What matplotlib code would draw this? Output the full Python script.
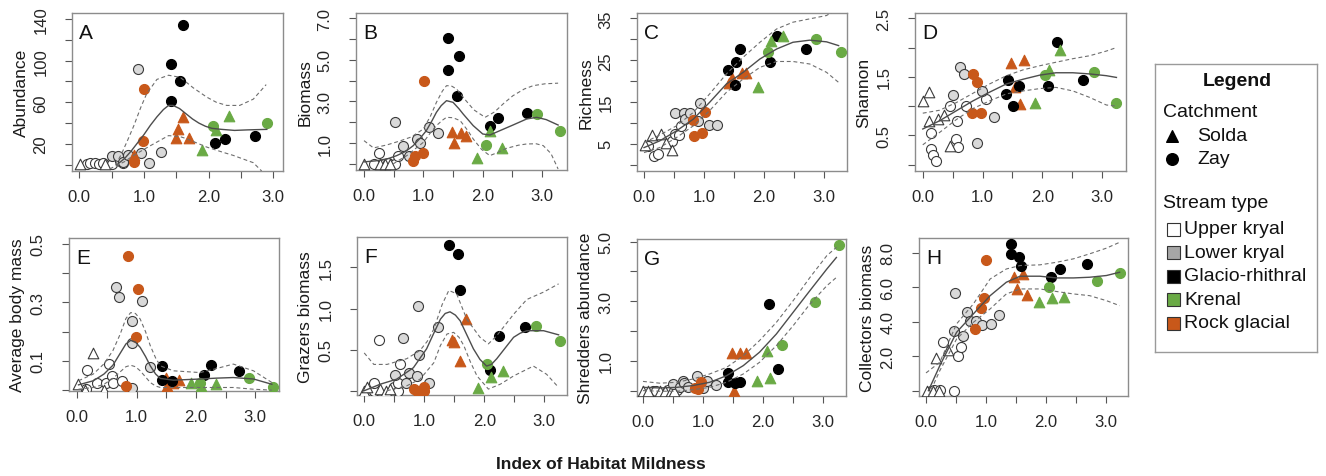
import matplotlib.pyplot as plt
from matplotlib.patches import Rectangle

plt.rcParams['font.family'] = ['Liberation Sans', 'DejaVu Sans']

W, H = 1326, 477

# stream type -> colours, catchment -> marker (T = Solda, C = Zay)
fill = {'U': 'white', 'L': '#d9d9d9', 'G': 'black', 'K': '#6aaa45', 'R': '#c8581a'}
edge = {'U': '#3a3a3a', 'L': '#3a3a3a', 'G': 'black', 'K': '#6aaa45', 'R': '#c8581a'}
marker = {'T': '^', 'C': 'o'}
type_names = ['Upper kryal', 'Lower kryal', 'Glacio-rhithral', 'Krenal', 'Rock glacial']
type_keys = ['U', 'L', 'G', 'K', 'R']
legend_fill = {'U': 'white', 'L': '#a6a6a6', 'G': 'black', 'K': '#6aaa45', 'R': '#c8581a'}

# ---- A: abundance ----
A_pts = {
    'UT': ([0.01, 0.40], [0.5, 0.5]),
    'UC': ([0.12, 0.17, 0.24, 0.30, 0.36, 0.50, 0.63, 0.68], [1, 2, 1.5, 1, 2, 1, 3.5, 1.5]),
    'LC': ([0.50, 0.60, 0.67, 0.76, 0.90, 0.95, 1.08, 1.26], [8.5, 8.5, 3, 9.5, 92, 11, 2, 12.5]),
    'RC': ([0.85, 0.99, 1.00], [2.5, 23, 73]),
    'RT': ([0.84, 1.49, 1.53, 1.60, 1.70], [9, 26, 34, 46, 26]),
    'GC': ([1.42, 1.42, 1.56, 1.60, 2.10, 2.26, 2.72], [97, 61, 80, 134, 21, 25, 28]),
    'KC': ([2.07, 2.90], [37.5, 40]),
    'KT': ([1.89, 2.12, 2.31], [14, 33, 47]),
}
A_fit = ([0.58, 0.7, 0.8, 0.9, 1.0, 1.1, 1.2, 1.3, 1.38, 1.45, 1.55, 1.65, 1.75, 1.85, 1.95, 2.05, 2.2, 2.4, 2.6, 2.9],
         [0, 6, 13, 21, 29, 38, 46, 53, 57, 57, 54, 49, 44, 40, 37, 35, 34, 33, 33.5, 34])
A_hi = ([0.56, 0.65, 0.75, 0.84, 0.95, 1.04, 1.2, 1.38, 1.56, 1.76, 1.97, 2.12, 2.28, 2.48, 2.69, 2.89],
        [0, 10, 24, 37, 55, 68, 82, 86, 84, 74, 65, 60, 57, 57, 63, 77])
A_lo = ([0.47, 0.6, 0.7, 0.84, 1.09, 1.38, 1.56, 1.66, 1.97, 2.22, 2.38, 2.6, 2.69, 2.82],
        [-4, 0, 3, 9, 18, 28, 27, 25, 17, 12, 9, 4, 2, -6])

# ---- B: biomass ----
B_pts = {
    'UT': ([0.0, 0.27, 0.36, 0.44], [0.02, 0.02, 0.02, 0.02]),
    'UC': ([0.16, 0.25, 0.33, 0.40, 0.52, 0.58], [0.02, 0.53, 0.02, 0.05, 0.02, 0.4]),
    'LC': ([0.52, 0.65, 0.75, 0.90, 0.94, 1.09, 1.24], [2.03, 0.88, 0.4, 1.2, 1.0, 1.76, 1.47]),
    'RC': ([0.83, 0.86, 1.0, 1.01], [0.13, 0.4, 0.53, 3.97]),
    'RT': ([1.49, 1.51, 1.63, 1.72], [1.55, 1.0, 1.47, 1.33]),
    'GC': ([1.42, 1.42, 1.56, 1.60, 2.13, 2.26, 2.74], [6.05, 4.53, 3.28, 5.17, 1.84, 2.19, 2.45]),
    'KC': ([2.06, 2.91, 3.30], [0.93, 2.4, 1.6]),
    'KT': ([1.91, 2.12, 2.33], [0.29, 1.6, 0.77]),
}
B_fit = ([0.0, 0.2, 0.4, 0.55, 0.7, 0.83, 0.95, 1.05, 1.15, 1.22, 1.3, 1.39, 1.5, 1.6, 1.67, 1.84, 2.0, 2.12,
          2.29, 2.51, 2.74, 2.91, 3.07, 3.27],
         [0.1, 0.15, 0.25, 0.4, 0.6, 0.88, 1.25, 1.6, 2.1, 2.48, 2.8, 3.04, 2.96, 2.65, 2.4, 1.84, 1.44, 1.39,
          1.6, 1.87, 2.16, 2.24, 2.13, 1.87])
B_hi = ([0.0, 0.16, 0.38, 0.6, 0.8, 1.0, 1.12, 1.22, 1.32, 1.39, 1.47, 1.56, 1.7, 1.85, 2.04, 2.2, 2.35, 2.51,
         2.7, 2.85, 3.05, 3.27],
        [1.12, 0.77, 0.91, 1.1, 1.3, 1.68, 2.3, 2.96, 3.5, 3.76, 3.75, 3.6, 3.1, 2.6, 2.24, 2.5, 2.9, 3.28,
         3.6, 3.76, 3.85, 3.88])
B_lo = ([0.49, 0.6, 0.72, 0.85, 1.0, 1.12, 1.22, 1.32, 1.39, 1.5, 1.62, 1.75, 1.84, 1.98, 2.12, 2.25, 2.4,
         2.6, 2.74, 2.9, 3.02, 3.15, 3.27],
        [0.0, 0.2, 0.4, 0.7, 1.04, 1.5, 1.84, 2.1, 2.24, 2.22, 2.08, 1.6, 1.2, 0.7, 0.4, 0.55, 0.75,
         0.9, 0.96, 0.97, 0.88, 0.5, -0.24])

# ---- C: richness ----
C_pts = {
    'UT': ([0.02, 0.13, 0.28, 0.37, 0.46], [4.8, 7.1, 7.3, 5.3, 3.6]),
    'UC': ([0.07, 0.16, 0.23, 0.46, 0.51, 0.58, 0.61], [4.5, 2.0, 2.6, 5.7, 7.3, 7.1, 9.3]),
    'LC': ([0.51, 0.66, 0.68, 0.76, 0.90, 0.94, 1.09, 1.22], [12.4, 12.4, 10.9, 12.4, 10.5, 14.8, 9.6, 9.6]),
    'RC': ([0.81, 0.83, 0.97, 1.02], [10.8, 6.8, 7.5, 12.7]),
    'RT': ([1.42, 1.47, 1.63, 1.69], [19.5, 20.7, 21.9, 21.9]),
    'GC': ([1.40, 1.52, 1.53, 1.59, 2.09, 2.22, 2.69], [22.7, 19.1, 24.6, 27.7, 24.6, 30.9, 27.7]),
    'KC': ([2.07, 2.86, 3.28], [26.9, 30.1, 26.9]),
    'KT': ([1.90, 2.11, 2.31], [18.7, 29.7, 30.7]),
}
C_x = [0, 0.26, 0.54, 0.82, 1.09, 1.37, 1.65, 1.93, 2.21, 2.48, 2.76, 3.04, 3.24]
C_fit = (C_x, [4.1, 5.7, 8.1, 10.9, 14.9, 19.3, 22.1, 25.3, 27.7, 29.3, 29.8, 29.4, 28.5])
C_hi = (C_x, [5.3, 7.1, 9.3, 12.5, 16.9, 21.7, 25.7, 29.3, 32.5, 34.1, 34.9, 35.7, 37.5])
C_lo = (C_x, [2.9, 4.1, 6.5, 9.3, 12.9, 17.3, 20.5, 23.3, 24.7, 24.7, 24.1, 22.1, 19.7])

# ---- D: Shannon ----
D_pts = {
    'UT': ([0.01, 0.10, 0.11, 0.25, 0.36, 0.45], [1.08, 1.25, 0.75, 0.78, 0.85, 0.32]),
    'UC': ([0.13, 0.14, 0.17, 0.22, 0.46, 0.55, 0.57, 0.59, 0.73, 1.06],
           [0.55, 0.27, 0.17, 0.07, 1.01, 0.44, 0.75, 0.31, 1.0, 1.12]),
    'LC': ([0.51, 0.63, 0.69, 0.91, 0.99, 1.20], [1.19, 1.66, 1.55, 0.37, 1.26, 0.81]),
    'RC': ([0.82, 0.84, 0.91, 0.98], [0.88, 1.55, 1.41, 0.88]),
    'RT': ([1.48, 1.54, 1.62, 1.69], [1.73, 1.32, 1.04, 1.79]),
    'GC': ([1.40, 1.42, 1.51, 1.61, 2.09, 2.25, 2.68], [1.21, 1.44, 1.0, 1.35, 1.34, 2.09, 1.44]),
    'KC': ([2.05, 2.87, 3.24], [1.53, 1.59, 1.05]),
    'KT': ([1.88, 2.11, 2.30], [1.05, 1.61, 1.96]),
}
D_x = [0, 0.28, 0.56, 0.84, 1.12, 1.40, 1.68, 1.96, 2.23, 2.51, 2.79, 3.07, 3.24]
D_fit = (D_x, [0.61, 0.75, 0.92, 1.09, 1.24, 1.38, 1.46, 1.53, 1.57, 1.57, 1.55, 1.52, 1.49])
D_hi = (D_x, [0.88, 0.93, 1.06, 1.22, 1.38, 1.52, 1.62, 1.69, 1.75, 1.81, 1.86, 1.94, 2.0])
D_lo = (D_x, [0.34, 0.55, 0.77, 0.96, 1.09, 1.21, 1.26, 1.30, 1.32, 1.26, 1.15, 1.02, 1.0])

# ---- E: average body mass ----
E_pts = {
    'UT': ([0.02, 0.13, 0.26, 0.45], [0.02, 0.0, 0.126, 0.0]),
    'UC': ([0.15, 0.17, 0.33, 0.48, 0.53, 0.58, 0.61, 0.75], [0.003, 0.07, 0.026, 0.026, 0.09, 0.047, 0.023, 0.032]),
    'LC': ([0.66, 0.71, 0.93, 0.93, 0.93, 1.09, 1.23], [0.354, 0.32, 0.235, 0.161, 0.006, 0.306, 0.078]),
    'RC': ([0.82, 0.85, 0.99, 1.02], [0.013, 0.458, 0.18, 0.346]),
    'RT': ([1.49, 1.52, 1.62, 1.72], [0.043, 0.013, 0.024, 0.033]),
    'GC': ([1.42, 1.43, 1.59, 2.13, 2.26, 2.72], [0.034, 0.083, 0.03, 0.051, 0.086, 0.064]),
    'KC': ([2.07, 2.89, 3.30], [0.023, 0.043, 0.011]),
    'KT': ([1.91, 2.09, 2.34], [0.023, 0.015, 0.02]),
}
E_x = [0.02, 0.27, 0.45, 0.6, 0.72, 0.82, 0.9, 0.98, 1.06, 1.15, 1.23, 1.32, 1.40, 1.62, 2.07, 2.35, 2.63, 2.97, 3.28]
E_fit = (E_x, [0.018, 0.032, 0.055, 0.085, 0.125, 0.158, 0.17, 0.164, 0.146, 0.115, 0.083, 0.055, 0.04,
               0.034, 0.038, 0.041, 0.043, 0.038, 0.02])
E_hi = (E_x, [0.032, 0.055, 0.09, 0.135, 0.19, 0.245, 0.265, 0.262, 0.243, 0.2, 0.152, 0.11, 0.083,
              0.066, 0.06, 0.074, 0.089, 0.066, 0.026])
E_lo = (E_x, [0.003, 0.009, 0.02, 0.04, 0.062, 0.08, 0.085, 0.08, 0.066, 0.045, 0.026, 0.014, 0.009,
              0.009, 0.009, 0.009, 0.009, 0.003, 0.0])

# ---- F: grazers biomass ----
F_pts = {
    'UT': ([0.0, 0.05, 0.27, 0.36, 0.43], [0.0, 0.04, 0.02, 0.0, 0.02]),
    'UC': ([0.16, 0.17, 0.24, 0.49, 0.56, 0.57, 0.59], [0.0, 0.1, 0.62, 0.04, 0.0, 0.1, 0.32]),
    'LC': ([0.52, 0.64, 0.70, 0.74, 0.88, 0.89, 0.92, 1.08, 1.23], [0.19, 0.64, 0.09, 0.21, 0.18, 1.03, 0.43, 0.1, 0.78]),
    'RC': ([0.83, 0.88, 0.99, 1.0], [0.02, 0.0, 0.04, 0.0]),
    'RT': ([1.46, 1.50, 1.60, 1.69], [0.62, 0.59, 0.36, 0.87]),
    'GC': ([1.42, 1.56, 1.59, 2.09, 2.24, 2.68], [1.77, 1.66, 1.22, 0.25, 0.67, 0.77]),
    'KC': ([2.04, 2.87, 3.26], [0.32, 0.79, 0.6]),
    'KT': ([1.89, 2.11, 2.31], [0.03, 0.17, 0.24]),
}
F_fit = ([0.0, 0.27, 0.54, 0.82, 1.04, 1.16, 1.27, 1.35, 1.43, 1.52, 1.60, 1.71, 1.82, 1.93, 2.04, 2.12, 2.21,
          2.35, 2.49, 2.6, 2.71, 2.99, 3.24],
         [0.0, 0.08, 0.14, 0.28, 0.51, 0.7, 0.87, 0.94, 0.96, 0.92, 0.85, 0.68, 0.51, 0.38, 0.3, 0.32, 0.39,
          0.52, 0.65, 0.7, 0.73, 0.73, 0.68])
F_hi = ([0.0, 0.16, 0.38, 0.71, 0.93, 1.05, 1.16, 1.3, 1.41, 1.54, 1.71, 1.93, 2.07, 2.21, 2.35, 2.49, 2.71,
         2.99, 3.24],
        [0.46, 0.32, 0.32, 0.39, 0.49, 0.6, 0.75, 1.05, 1.22, 1.18, 0.87, 0.65, 0.57, 0.67, 0.8, 0.93, 1.11,
         1.2, 1.3])
F_lo = ([0.38, 0.71, 0.93, 1.16, 1.27, 1.38, 1.49, 1.58, 1.66, 1.77, 1.88, 2.07, 2.27, 2.49, 2.82, 3.04, 3.24],
        [0.0, 0.06, 0.14, 0.34, 0.55, 0.69, 0.71, 0.65, 0.55, 0.35, 0.18, 0.02, 0.08, 0.18, 0.3, 0.2, 0.04])

# ---- G: shredders abundance ----
G_pts = {
    'UT': ([0.0, 0.08, 0.28, 0.36, 0.47, 0.51], [0.0, 0.0, 0.0, 0.0, 0.0, 0.0]),
    'UC': ([0.17, 0.22, 0.42, 0.56], [0.0, 0.0, 0.02, 0.03]),
    'LC': ([0.50, 0.61, 0.66, 0.69, 0.75, 0.90, 1.0, 1.06, 1.22], [0.22, 0.12, 0.34, 0.26, 0.11, 0.5, 0.08, 0.31, 0.2]),
    'RC': ([0.86, 0.91, 0.97], [0.08, 0.06, 0.28]),
    'RT': ([1.48, 1.51, 1.61, 1.71], [1.25, 0.0, 1.25, 1.25]),
    'GC': ([1.42, 1.42, 1.54, 1.61, 2.10, 2.25], [0.58, 0.28, 0.25, 0.28, 2.91, 0.73]),
    'KC': ([2.31, 2.87, 3.27], [1.53, 2.99, 4.89]),
    'KT': ([1.89, 2.06, 2.11], [0.34, 1.34, 0.43]),
}
G_x = [0, 0.28, 0.56, 0.83, 1.11, 1.39, 1.67, 1.94, 2.22, 2.5, 2.78, 3.06, 3.22]
G_fit = (G_x, [0.11, 0.09, 0.11, 0.17, 0.28, 0.5, 0.84, 1.29, 1.9, 2.63, 3.36, 4.08, 4.47])
G_hi = (G_x, [0.31, 0.25, 0.28, 0.39, 0.56, 0.78, 1.17, 1.68, 2.29, 3.02, 3.8, 4.53, 4.81])
G_lo = (G_x, [0.0, -0.02, -0.02, 0.03, 0.11, 0.28, 0.56, 0.95, 1.51, 2.18, 2.91, 3.52, 3.8])

# ---- H: collectors biomass ----
H_pts = {
    'UT': ([0.01, 0.11, 0.16, 0.21, 0.36], [0, 0, 1.88, 0, 2.38]),
    'UC': ([0.08, 0.14, 0.23, 0.29, 0.46, 0.54, 0.58], [0, 0.02, 0.02, 2.85, 0, 2.0, 2.52]),
    'LC': ([0.46, 0.49, 0.61, 0.68, 0.73, 0.83, 0.93, 1.09, 1.22], [3.49, 5.68, 3.16, 4.59, 4.07, 4.07, 3.82, 3.88, 4.42]),
    'RC': ([0.81, 0.91, 0.97, 1.0], [3.59, 4.79, 5.39, 7.62]),
    'RT': ([1.47, 1.51, 1.61, 1.69], [6.63, 5.91, 6.78, 5.56]),
    'GC': ([1.41, 1.41, 1.55, 1.58, 2.09, 2.23, 2.69], [8.53, 7.95, 7.75, 7.27, 6.59, 7.07, 7.36]),
    'KC': ([2.05, 2.86, 3.23], [6.05, 6.36, 6.82]),
    'KT': ([1.89, 2.11, 2.30], [5.14, 5.39, 5.43]),
}
H_x = [0.04, 0.23, 0.51, 0.79, 1.07, 1.34, 1.57, 1.9, 2.18, 2.46, 2.73, 3.01, 3.23]
H_fit = (H_x, [0.0, 1.45, 3.39, 4.46, 5.52, 6.3, 6.65, 6.65, 6.55, 6.55, 6.59, 6.69, 6.88])
H_hi = ([0.0] + H_x[1:], [1.03, 1.65, 3.88, 5.04, 6.49, 7.07, 7.27, 7.31, 7.46, 7.66, 7.95, 8.28, 8.62])
H_lo = (H_x, [-0.3, 1.16, 3.0, 3.97, 4.75, 5.62, 5.91, 5.91, 5.76, 5.62, 5.52, 5.23, 4.94])

# letter, y label, points, curves, box in pixels (l, t, r, b), xlim, ylim, y ticks, labelled ticks
panels = [
    ('A', 'Abundance', A_pts, A_fit, A_hi, A_lo, (72, 14, 283, 172), (-0.113, 3.15), (-6, 145.8),
     [0, 20, 40, 60, 80, 100, 120, 140], {20: '20', 60: '60', 100: '100', 140: '140'}),
    ('B', 'Biomass', B_pts, B_fit, B_hi, B_lo, (356, 14, 567, 171), (-0.135, 3.42), (-0.29, 7.25),
     [0, 1, 2, 3, 4, 5, 6, 7], {1: '1.0', 3: '3.0', 5: '5.0', 7: '7.0'}),
    ('C', 'Richness', C_pts, C_fit, C_hi, C_lo, (637, 14, 847, 172), (-0.117, 3.38), (-1.5, 36.3),
     [0, 5, 10, 15, 20, 25, 30, 35], {5: '5', 15: '15', 25: '25', 35: '35'}),
    ('D', 'Shannon', D_pts, D_fit, D_hi, D_lo, (915, 14, 1126, 172), (-0.13, 3.40), (-0.107, 2.59),
     [0, 0.5, 1.0, 1.5, 2.0, 2.5], {0.5: '0.5', 1.5: '1.5', 2.5: '2.5'}),
    ('E', 'Average body mass', E_pts, E_fit, E_hi, E_lo, (69, 239, 279, 392), (-0.14, 3.40), (-0.003, 0.52),
     [0, 0.1, 0.2, 0.3, 0.4, 0.5], {0.1: '0.1', 0.3: '0.3', 0.5: '0.5'}),
    ('F', 'Grazers biomass', F_pts, F_fit, F_hi, F_lo, (357, 238, 567, 396), (-0.12, 3.38), (-0.052, 1.87),
     [0, 0.5, 1.0, 1.5], {0.5: '0.5', 1.0: '1.0', 1.5: '1.5'}),
    ('G', 'Shredders abundance', G_pts, G_fit, G_hi, G_lo, (637, 240, 846, 397), (-0.10, 3.38), (-0.18, 5.09),
     [0, 1, 2, 3, 4, 5], {1: '1.0', 3: '3.0', 5: '5.0'}),
    ('H', 'Collectors biomass', H_pts, H_fit, H_hi, H_lo, (919, 239, 1128, 397), (-0.117, 3.37), (-0.31, 8.87),
     [0, 2, 4, 6, 8], {2: '2.0', 4: '4.0', 6: '6.0', 8: '8.0'}),
]

fig = plt.figure(figsize=(W / 100, H / 100), dpi=100)

for letter, ylab, pts, fit, hi, lo, box, xlim, ylim, yticks, ylabels in panels:
    l, t, r, b = box
    ax = fig.add_axes([l / W, 1 - b / H, (r - l) / W, (b - t) / H])
    ax.set_xlim(*xlim)
    ax.set_ylim(*ylim)

    for typ in ['U', 'L', 'R', 'G', 'K']:
        for cat in ['C', 'T']:
            key = typ + cat
            if key not in pts:
                continue
            xs, ys = pts[key]
            ax.scatter(xs, ys, marker=marker[cat], s=52 if cat == 'C' else 58,
                       facecolor=fill[typ], edgecolor=edge[typ], linewidth=0.8, zorder=3)

    ax.plot(*fit, color='#4d4d4d', lw=1.0, zorder=4)
    ax.plot(*hi, color='#6e6e6e', lw=0.8, ls=(0, (3.5, 2.5)), zorder=4)
    ax.plot(*lo, color='#6e6e6e', lw=0.8, ls=(0, (3.5, 2.5)), zorder=4)

    for sp in ax.spines.values():
        sp.set_color('#8c8c8c')
        sp.set_linewidth(1.0)

    ax.set_xticks([0, 0.5, 1.0, 1.5, 2.0, 2.5, 3.0])
    ax.set_xticklabels(['0.0', '', '1.0', '', '2.0', '', '3.0'])
    ax.set_yticks(yticks)
    ax.set_yticklabels([ylabels.get(v, '') for v in yticks], rotation=90, va='center')
    ax.tick_params(axis='x', length=5, width=0.8, color='#555555', pad=8, labelsize=12, labelcolor='#262626')
    ax.tick_params(axis='y', length=5, width=0.8, color='#555555', pad=12, labelsize=12, labelcolor='#262626')

    ax.text(0.035, 0.935, letter, transform=ax.transAxes, fontsize=15, ha='left', va='top', color='#111111')
    fig.text((l - 51) / W, 1 - (t + b) / 2 / H, ylab, rotation=90, ha='center', va='center',
             fontsize=12.5, color='#1a1a1a')

fig.text(601 / W, 1 - 465 / H, 'Index of Habitat Mildness', ha='center', va='center',
         fontsize=12.5, fontweight='bold', color='#1a1a1a')

# legend panel, drawn in pixel coordinates
lg = fig.add_axes([1155 / W, 1 - 353 / H, (1317 - 1155) / W, (353 - 65) / H])
lg.set_xlim(1155, 1317)
lg.set_ylim(353, 65)
lg.set_xticks([])
lg.set_yticks([])
for sp in lg.spines.values():
    sp.set_color('#9a9a9a')
    sp.set_linewidth(1.0)

lg.text(1237, 82, 'Legend', ha='center', va='center', fontsize=14, fontweight='bold', color='#111111')
lg.text(1163, 113, 'Catchment', ha='left', va='center', fontsize=14, color='#111111')
lg.scatter([1172], [137], marker='^', s=70, color='black')
lg.text(1197, 137, 'Solda', ha='left', va='center', fontsize=14, color='#111111')
lg.scatter([1172], [160], marker='o', s=70, color='black')
lg.text(1197, 160, 'Zay', ha='left', va='center', fontsize=14, color='#111111')
lg.text(1163, 204, 'Stream type', ha='left', va='center', fontsize=14, color='#111111')
for i, (k, name) in enumerate(zip(type_keys, type_names)):
    yy = 230 + i * 23.5
    lg.add_patch(Rectangle((1167, yy - 6.5), 13, 13, facecolor=legend_fill[k], edgecolor='#333333', lw=0.8))
    lg.text(1184, yy, name, ha='left', va='center', fontsize=14, color='#111111')

fig.savefig('out.png', dpi=100)
